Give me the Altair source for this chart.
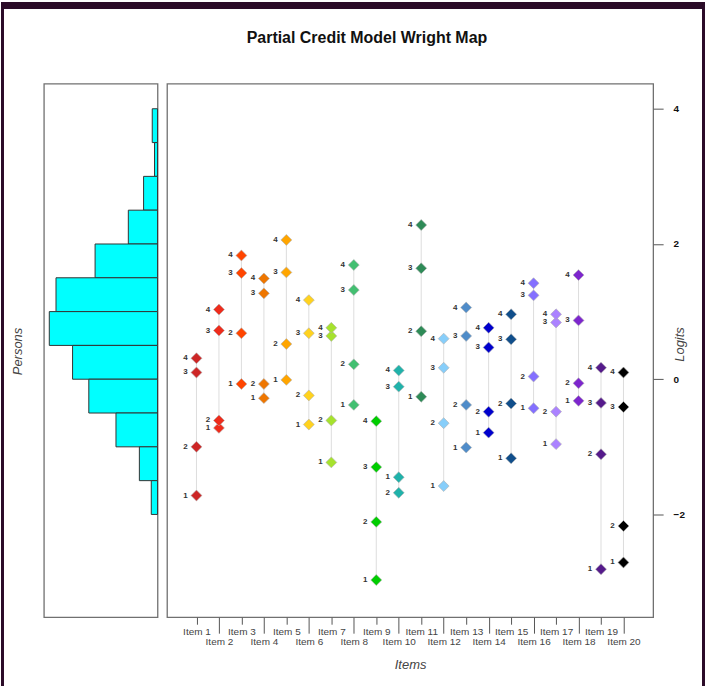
import altair as alt
import pandas as pd

# ---------------- data ----------------
item_num = list(range(1, 21))
item_colors = ["#CD2626", "#EE2C1C", "#FF4500", "#EE7600", "#FFA500",
               "#FFD21F", "#A6E22E", "#43BF71", "#00CD00", "#20B2AA",
               "#2E8B57", "#87CEFA", "#4F8CC9", "#0000CD", "#104E8B",
               "#8470FF", "#AB82FF", "#7D26CD", "#551A8B", "#000000"]
thr1 = [-1.72, -0.72, -0.07, -0.28, -0.01, -0.67, -1.23, -0.38, -2.97, -1.45,
        -0.26, -1.58, -1.01, -0.79, -1.17, -0.43, -0.96, -0.32, -2.81, -2.71]
thr2 = [-1.00, -0.61, 0.68, -0.07, 0.52, -0.24, -0.61, 0.22, -2.11, -1.68,
        0.71, -0.65, -0.38, -0.48, -0.36, 0.04, -0.48, -0.06, -1.11, -2.17]
thr3 = [0.10, 0.72, 1.57, 1.27, 1.58, 0.68, 0.64, 1.32, -1.30, -0.11,
        1.64, 0.17, 0.64, 0.47, 0.59, 1.24, 0.84, 0.87, -0.35, -0.41]
thr4 = [0.31, 1.03, 1.83, 1.49, 2.06, 1.17, 0.76, 1.69, -0.62, 0.13,
        2.28, 0.60, 1.06, 0.76, 0.96, 1.42, 0.96, 1.54, 0.17, 0.10]

# person histogram (bins of 0.5 logit, relative frequencies)
bin_low = [3.5, 3.0, 2.5, 2.0, 1.5, 1.0, 0.5, 0.0, -0.5, -1.0, -1.5, -2.0]
bin_count = [4.9, 2.8, 12.9, 27.0, 57.7, 93.8, 100.0, 78.5, 63.5, 38.4, 16.8, 5.8]

odd_items = [i for i in item_num if i % 2 == 1]
even_items = [i for i in item_num if i % 2 == 0]
logit_ticks = [-2, 0, 2, 4]

# ---------------- tables ----------------
rows = []
for k, thr in enumerate([thr1, thr2, thr3, thr4], start=1):
    for i, v in zip(item_num, thr):
        rows.append({"item": i, "step": str(k), "logit": v,
                     "col": item_colors[i - 1]})
pts = pd.DataFrame(rows)
rng = pd.DataFrame({
    "item": item_num,
    "lo": [min(a, b, c, d) for a, b, c, d in zip(thr1, thr2, thr3, thr4)],
    "hi": [max(a, b, c, d) for a, b, c, d in zip(thr1, thr2, thr3, thr4)],
})
hist = pd.DataFrame({"lo": bin_low, "hi": [b + 0.5 for b in bin_low],
                     "count": bin_count, "base": [0] * len(bin_low)})

FONT = "Liberation Sans"
yscale = alt.Scale(domain=[-3.52, 4.37], nice=False, zero=False)
xscale = alt.Scale(domain=[-0.31, 21.32], nice=False, zero=False)
FRAME = "#2B0B28"

# ---------------- left: persons histogram ----------------
left = alt.Chart(hist).mark_rect(
    fill="#00FFFF", stroke="#333333", strokeWidth=1
).encode(
    y=alt.Y("lo:Q", scale=yscale,
            axis=alt.Axis(title="Persons", labels=False, ticks=False,
                          domain=False, grid=False, titleX=-26, titleY=268,
                          titleAngle=270, titleBaseline="middle",
                          titleFontStyle="italic", titleFontWeight="normal",
                          titleFontSize=13, titleColor="#444444",
                          titleFont=FONT)),
    y2="hi:Q",
    x=alt.X("count:Q", scale=alt.Scale(domain=[0, 105], reverse=True,
                                       nice=False), axis=None),
    x2="base:Q",
).properties(width=114, height=535)

# ---------------- right: item thresholds ----------------
one = pd.DataFrame({"a": [0]})

frame_left = alt.Chart(one).mark_rect(color=FRAME).encode(
    x=alt.value(-166.5), x2=alt.value(-163.5), y=alt.value(-82), y2=alt.value(604))
frame_right = alt.Chart(one).mark_rect(color=FRAME).encode(
    x=alt.value(536.5), x2=alt.value(539.5), y=alt.value(-82), y2=alt.value(604))
frame_top = alt.Chart(one).mark_rect(color=FRAME).encode(
    x=alt.value(-166.5), x2=alt.value(539.5), y=alt.value(-82), y2=alt.value(-75))

title = alt.Chart(pd.DataFrame({"t": ["Partial Credit Model Wright Map"]})).mark_text(
    font=FONT, fontSize=16, fontWeight="bold", color="#111111",
    align="center", baseline="middle"
).encode(text="t:N", x=alt.value(200.5), y=alt.value(-46))

lines = alt.Chart(rng).mark_rule(color="#DDDDDD", strokeWidth=1).encode(
    x=alt.X("item:Q", scale=xscale,
            axis=alt.Axis(orient="bottom", values=even_items,
                          labelExpr="'Item ' + datum.value",
                          tickSize=16, labelPadding=3, grid=False, domain=False,
                          tickColor="#555555", labelColor="#444444",
                          labelFontSize=10, labelFont=FONT, title=None)),
    y=alt.Y("lo:Q", scale=yscale, axis=None),
    y2="hi:Q",
)

diamonds = alt.Chart(pts).mark_point(
    shape="diamond", size=120, filled=True, stroke="#B0B0B0",
    strokeWidth=0.6, opacity=1
).encode(
    x=alt.X("item:Q", scale=xscale,
            axis=alt.Axis(orient="bottom", values=odd_items,
                          labelExpr="'Item ' + datum.value",
                          tickSize=7, labelPadding=2, grid=False, domain=False,
                          tickColor="#555555", labelColor="#444444",
                          labelFontSize=10, labelFont=FONT,
                          title="Items", titleFontStyle="italic",
                          titleFontWeight="normal", titleFontSize=13,
                          titleColor="#444444", titleFont=FONT,
                          titleY=47, titleBaseline="middle")),
    y=alt.Y("logit:Q", scale=yscale,
            axis=alt.Axis(orient="right", values=logit_ticks, tickSize=10,
                          labelPadding=10, grid=False, domain=False,
                          tickColor="#555555", labelColor="#111111",
                          labelFontWeight="bold", labelFontSize=10,
                          labelFont=FONT, title="Logits",
                          titleFontStyle="italic", titleFontWeight="normal",
                          titleFontSize=13, titleColor="#444444",
                          titleFont=FONT, titleX=26, titleY=261,
                          titleAngle=270, titleBaseline="middle")),
    fill=alt.Fill("col:N", scale=None),
)

step_labels = alt.Chart(pts).mark_text(
    font=FONT, fontSize=8, fontWeight="bold", color="#333333",
    dx=-11, align="center", baseline="middle"
).encode(
    x=alt.X("item:Q", scale=xscale, axis=None),
    y=alt.Y("logit:Q", scale=yscale, axis=None),
    text="step:N",
)

right = alt.layer(
    frame_top, frame_left, frame_right, title, lines, diamonds, step_labels
).resolve_axis(x="independent", y="independent").properties(width=487.5, height=535)

chart = alt.hconcat(left, right, spacing=9.5, bounds="flush").properties(
    padding=0, background="white"
).configure_view(stroke="#707070", strokeWidth=1.3)

chart.save("out.html", embed_options={"renderer": "svg", "actions": False})
